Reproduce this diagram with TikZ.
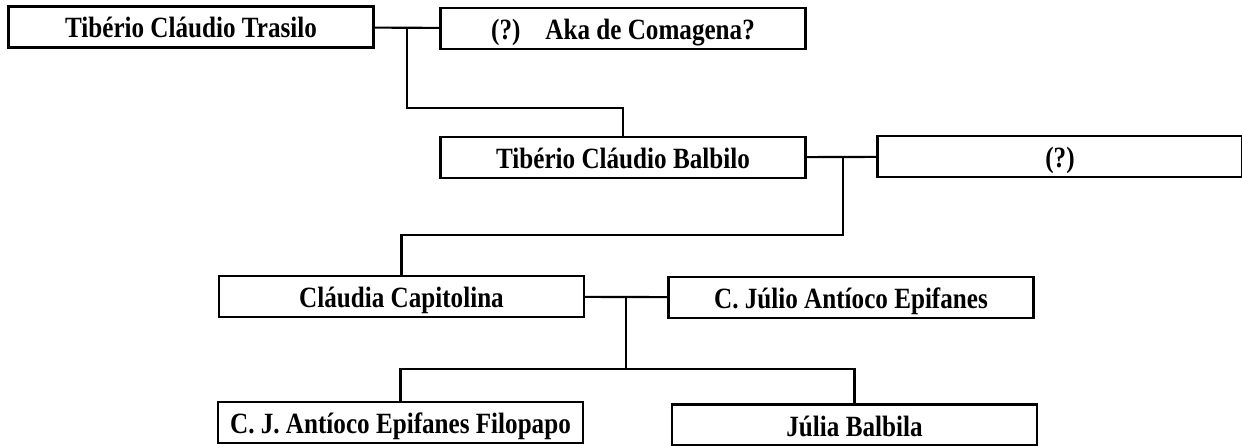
\documentclass[tikz,border=0pt]{standalone}
\usepackage{fontspec}
\setmainfont{Liberation Serif}
\newcommand{\tallname}[1]{\scalebox{1}[1.17]{#1}}
\begin{document}
\begin{tikzpicture}[line width=1.2pt]
  \tikzstyle{person}=[rectangle,draw=black,minimum width=7.3cm,minimum height=0.82cm,inner sep=0pt,text height=0.48cm,text depth=0.04cm,font=\fontsize{14.3}{17}\selectfont\bfseries]
  \useasboundingbox (0,0) rectangle (24.84,-8.92);

  \node[person] (P_trasilo) at (3.82,-0.54) {\tallname{Tibério Cláudio Trasilo}};
  \node[person] (P_aka) at (12.46,-0.57) {\tallname{(?)\hspace{0.5cm}Aka de Comagena?}};
  \draw (P_trasilo) -- (P_aka);
  \coordinate (M_1) at (8.14,-0.56);
  \coordinate (K_1) at (8.14,-2.16);

  \node[person] (P_balbilo) at (12.46,-3.15) {\tallname{Tibério Cláudio Balbilo}};
  \node[person] (P_esposa) at (21.2,-3.13) {\tallname{(?)}};
  \draw (M_1) -- (K_1) -| (P_balbilo.north);
  \draw (P_balbilo) -- (P_esposa);
  \coordinate (M_2) at (16.86,-3.14);
  \coordinate (K_2) at (16.86,-4.7);

  \node[person] (P_capitolina) at (8.03,-5.93) {\tallname{Cláudia Capitolina}};
  \node[person] (P_epifanes) at (17.02,-5.95) {\tallname{C. Júlio Antíoco Epifanes}};
  \draw (M_2) -- (K_2) -| (P_capitolina.north);
  \draw (P_capitolina) -- (P_epifanes);
  \coordinate (M_3) at (12.52,-5.93);
  \coordinate (K_3) at (12.52,-7.38);

  \node[person] (P_filopapo) at (8.01,-8.45) {\tallname{C. J. Antíoco Epifanes Filopapo}};
  \node[person] (P_balbila) at (17.09,-8.5) {\tallname{Júlia Balbila}};
  \draw (M_3) -- (K_3);
  \draw (P_filopapo.north) |- (K_3) -| (P_balbila.north);
\end{tikzpicture}
\end{document}
